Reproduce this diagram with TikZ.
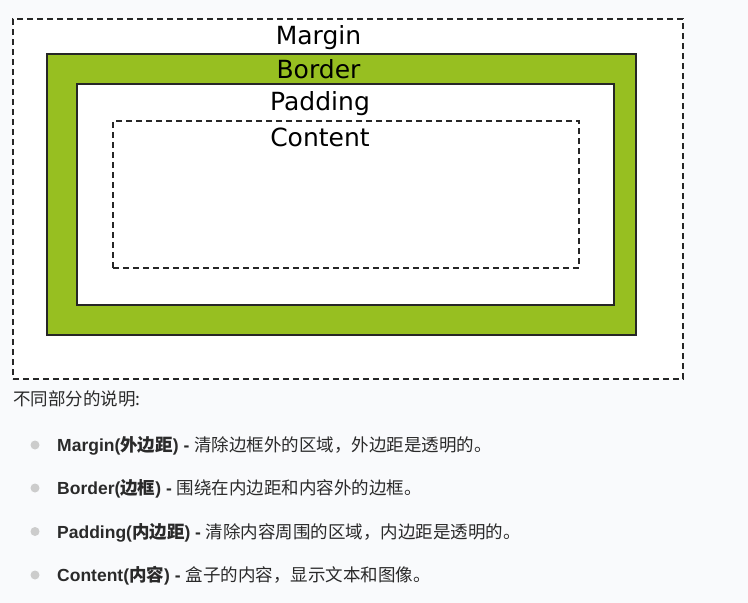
\documentclass[tikz,border=0pt]{standalone}
\usepackage{fontspec}
\setmainfont{Liberation Sans}
\newfontfamily\boxfont{DejaVu Sans}
\newfontfamily\cjk{Noto Sans CJK SC}
\usepackage{xcolor}

\definecolor{pagebg}{HTML}{F9FAFC}
\definecolor{bordergreen}{RGB}{151,191,33}
\definecolor{textgray}{HTML}{2A2A2A}
\definecolor{bulletgray}{HTML}{CCCCCC}
\newcommand{\zh}[1]{{\cjk #1}}

\begin{document}
\begin{tikzpicture}[x=1pt, y=-1pt,
    box/.style={rectangle, draw=black!85, inner sep=0pt, line width=1.1pt},
    dashedbox/.style={box, dash pattern=on 6pt off 4pt},
    boxlabel/.style={anchor=base, inner sep=0pt, font=\boxfont\fontsize{25}{29}\selectfont},
    bullet/.style={circle, fill=bulletgray, inner sep=0pt, minimum size=9pt},
    item/.style={anchor=base west, inner sep=0pt, text=textgray, font=\fontsize{17.5}{21}\selectfont}
]
    % Page
    \fill[pagebg] (0,0) rectangle (748,603);
    \useasboundingbox (0,0) rectangle (748,603);

    % Nested boxes
    \node[dashedbox, fill=white, minimum width=670pt, minimum height=360pt] (margin) at (348,199) {};
    \node[box, fill=bordergreen, minimum width=589pt, minimum height=281pt] (border) at (341.5,194.5) {};
    \node[box, fill=white, minimum width=537pt, minimum height=221pt] (padding) at (345.5,194.5) {};
    \node[dashedbox, minimum width=466pt, minimum height=147pt] (content) at (346,194.5) {};

    \node[boxlabel] (marginlabel) at (318.5,44) {Margin};
    \node[boxlabel] (borderlabel) at (318.5,78) {Border};
    \node[boxlabel] (paddinglabel) at (320,110) {Padding};
    \node[boxlabel] (contentlabel) at (320,146) {Content};

    % Explanation
    \node[item] (intro) at (13,405) {\zh{不同部分的说明:}};

    \node[bullet] (b1) at (35,445) {};
    \node[item] (m) at (57,451) {\textbf{Margin(\zh{外边距}) -} \zh{清除边框外的区域，外边距是透明的。}};
    \node[bullet] (b2) at (35,488) {};
    \node[item] (b) at (57,494.5) {\textbf{Border(\zh{边框}) -} \zh{围绕在内边距和内容外的边框。}};
    \node[bullet] (b3) at (35,531.5) {};
    \node[item] (p) at (57,538) {\textbf{Padding(\zh{内边距}) -} \zh{清除内容周围的区域，内边距是透明的。}};
    \node[bullet] (b4) at (35,575) {};
    \node[item] (c) at (57,581) {\textbf{Content(\zh{内容}) -} \zh{盒子的内容，显示文本和图像。}};
\end{tikzpicture}
\end{document}
